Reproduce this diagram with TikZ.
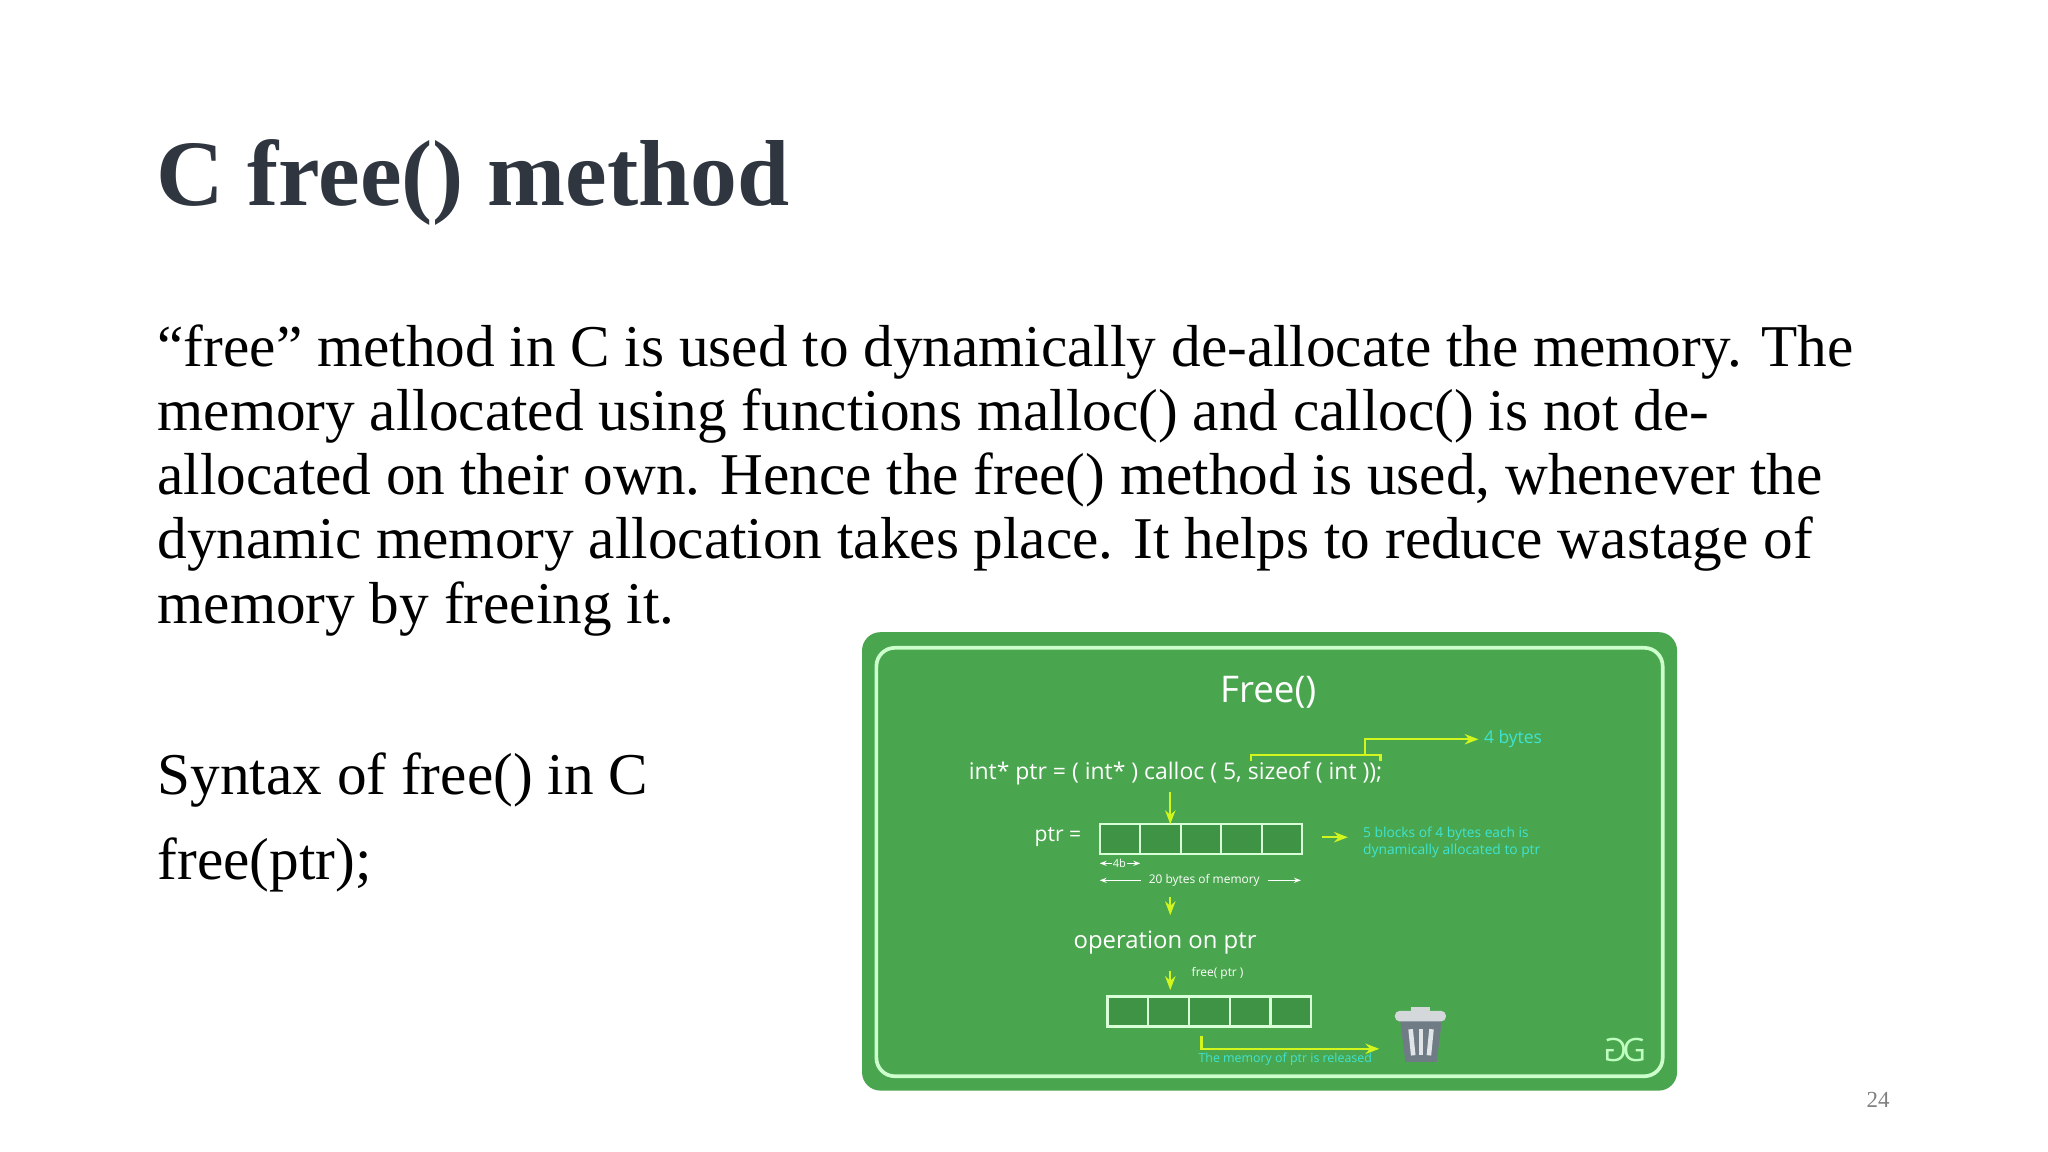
\documentclass[tikz,border=0pt]{standalone}
\usepackage{fontspec}
\setmainfont{Liberation Serif}
\newfontfamily\panelfont{Open Sans}
\usetikzlibrary{arrows.meta}
\definecolor{titlegray}{HTML}{2F3640}
\definecolor{panelgreen}{HTML}{4AA64E}
\definecolor{lime}{HTML}{D2F51E}
\definecolor{aqua}{HTML}{3FE3D2}
\definecolor{cellgreen}{HTML}{3E9444}
\definecolor{bingray}{HTML}{6F7C86}

\tikzset{
    limearrow/.style={lime, line width=0.5pt, -{Stealth[length=3pt]}},
    paneltext/.style={text=white, font=\panelfont},
    notetext/.style={text=aqua, font=\panelfont\fontsize{3}{3.6}\selectfont, align=left}
}

\begin{document}
\begin{tikzpicture}[x=0.01cm, y=-0.01cm]
    \useasboundingbox[fill=white] (0,0) rectangle (1568,882);

    % Title and body text
    \node[anchor=base west, inner sep=0pt, text=titlegray, font=\bfseries\fontsize{20.4}{24}\selectfont] (title) at (119,157) {C free() method};
    \node[anchor=base west, inner sep=0pt, align=left, font=\fontsize{12.9}{13.95}\selectfont] (body) at (120,477)
        {``free'' method in C is used to dynamically de-allocate the memory. The\\
         memory allocated using functions malloc() and calloc() is not de-\\
         allocated on their own. Hence the free() method is used, whenever the\\
         dynamic memory allocation takes place. It helps to reduce wastage of\\
         memory by freeing it.};
    \node[anchor=base west, inner sep=0pt, font=\fontsize{12.9}{14}\selectfont] (syntax) at (120,608) {Syntax of free() in C};
    \node[anchor=base west, inner sep=0pt, font=\fontsize{12.9}{14}\selectfont] (call) at (120,673) {free(ptr);};
    \node[text=gray, font=\fontsize{5}{6}\selectfont] (page) at (1438,842) {24};

    % Green panel
    \fill[panelgreen, rounded corners=4pt] (660,484) rectangle (1284,835);
    \draw[white!80!green, line width=0.8pt, rounded corners=4pt] (671,496) rectangle (1273,824);

    \node[paneltext, font=\panelfont\fontsize{8}{9}\selectfont] (head) at (971,530) {Free()};
    \node[paneltext, font=\panelfont\fontsize{5}{6}\selectfont] (code) at (900,592) {int* ptr = ( int* ) calloc ( 5, sizeof ( int ));};

    % size of int
    \draw[lime, line width=0.5pt] (958,583) -- (958,578) -- (1057,578) -- (1057,583);
    \coordinate (bytestip) at (1132,566);
    \draw[limearrow] (1045,578) -- (1045,566) -- (bytestip);
    \node[notetext, font=\panelfont\fontsize{3.8}{4}\selectfont, anchor=west, inner sep=1pt] (bytes) at (bytestip) {4 bytes};

    % allocated blocks
    \node[paneltext, font=\panelfont\fontsize{4.6}{5}\selectfont] (ptr) at (810,641) {ptr =};
    \foreach \i in {0,...,4}
        \draw[white!85!green, line width=0.5pt, fill=cellgreen] (842+31*\i,631) rectangle ++(31,23);
    \coordinate (blocks) at (896,631);
    \draw[limearrow] (896,606) -- (blocks);
    \draw[limearrow] (1012,641) -- (1032,641);
    \node[notetext, anchor=west, inner sep=0pt] (note) at (1043,645) {5 blocks of 4 bytes each is\\dynamically allocated to ptr};
    \node[text=white, font=\panelfont\fontsize{2.4}{3}\selectfont, inner sep=0pt] (fourb) at (857,661) {4b};
    \draw[white, line width=0.3pt, -{Stealth[length=1.5pt]}] (fourb.west) -- (842,661);
    \draw[white, line width=0.3pt, -{Stealth[length=1.5pt]}] (fourb.east) -- (873,661);
    \node[text=white, font=\panelfont\fontsize{2.6}{3}\selectfont, inner sep=1.5pt] (twenty) at (922,674) {20 bytes of memory};
    \draw[white, line width=0.3pt, -{Stealth[length=1.5pt]}] (twenty.west) -- (842,674);
    \draw[white, line width=0.3pt, -{Stealth[length=1.5pt]}] (twenty.east) -- (996,674);

    % operation and free
    \node[paneltext, font=\panelfont\fontsize{5.2}{6}\selectfont] (oper) at (892,722) {operation on ptr};
    \draw[limearrow] (896,687) -- (oper.north -| 896,0);
    \foreach \i in {0,...,4}
        \draw[white!85!green, line width=0.5pt, fill=cellgreen] (848+31.2*\i,763) rectangle ++(31.2,23);
    \draw[limearrow] (oper.south -| 896,0) -- (896,758);
    \node[text=white, font=\panelfont\fontsize{2.6}{3}\selectfont, anchor=west] (freeptr) at (900,745) {free( ptr )};

    % released
    \coordinate (bin) at (1056,803);
    \draw[limearrow] (920,793) -- (920,803) -- (bin);
    \node[notetext, font=\panelfont\fontsize{2.7}{3}\selectfont, inner sep=0pt] (released) at (984,811) {The memory of ptr is released};

    % trash can
    \fill[bingray] (1072,781) -- (1104,781) -- (1100,813) -- (1076,813) -- cycle;
    \fill[white!70!bingray, rounded corners=1pt] (1068,774) rectangle (1107,782);
    \fill[white!70!bingray] (1080,771) rectangle (1095,775);
    \foreach \dx/\ex in {1080/1082,1088/1088,1096/1094}
        \draw[white!80!bingray, line width=1pt] (\dx,788) -- (\ex,808);
    \node[text=white!75!green, font=\panelfont\fontsize{7}{8}\selectfont] (logo) at (1244,804) {\scalebox{-1}[1]{G}\kern-1ptG};
\end{tikzpicture}
\end{document}
